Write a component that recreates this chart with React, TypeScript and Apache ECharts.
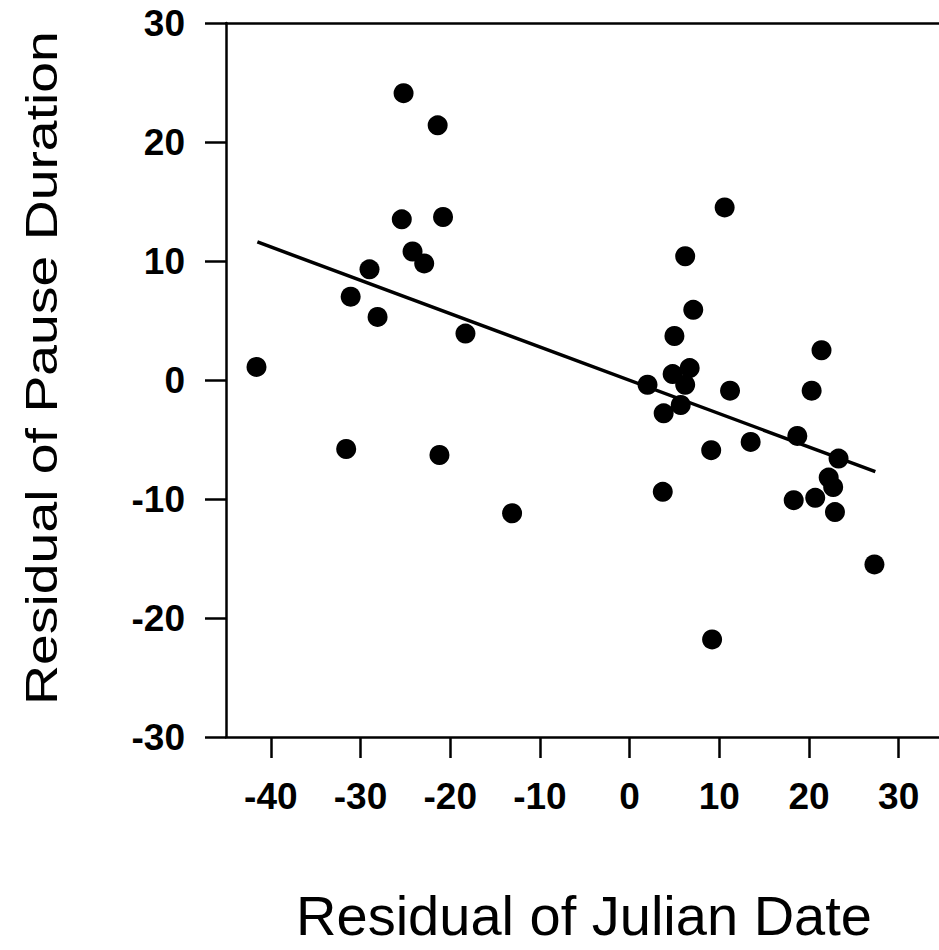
import React, { useEffect, useRef } from "react";
import * as echarts from "echarts";

const julianResidual = [
  -41.6, -25.2, -21.4, -25.4, -20.8, -24.2, -22.9, -29.0, -31.1, -28.1, -18.3,
  -31.6, -21.2, -13.1, 10.6, 6.2, 7.1, 5.0, 2.0, 4.8, 6.7, 6.2, 5.7, 3.8, 11.2,
  21.4, 20.3, 9.1, 13.5, 18.7, 23.3, 22.2, 22.7, 20.7, 18.3, 22.9, 27.3, 9.2, 3.7,
];
const pauseResidual = [
  1.1, 24.1, 21.4, 13.5, 13.7, 10.8, 9.8, 9.3, 7.0, 5.3, 3.9,
  -5.8, -6.3, -11.2, 14.5, 10.4, 5.9, 3.7, -0.4, 0.5, 1.0, -0.4, -2.1, -2.8, -0.9,
  2.5, -0.9, -5.9, -5.2, -4.7, -6.6, -8.2, -9.0, -9.9, -10.1, -11.1, -15.5, -21.8, -9.4,
];
const fitX = [-41.5, 27.4];
const fitY = [11.6, -7.7];
const xTicks = [-40, -30, -20, -10, 0, 10, 20, 30];
const yTicks = [-30, -20, -10, 0, 10, 20, 30];
const xTitle = "Residual of Julian Date";
const yTitle = "Residual of Pause Duration";

const FONT = "'Liberation Sans', Arial, Helvetica, sans-serif";

export default function App() {
  const ref = useRef<HTMLDivElement>(null);
  useEffect(() => {
    if (!ref.current) return;
    const chart = echarts.init(ref.current, null, { renderer: "svg" });
    const axisLine = { show: true, onZero: false, lineStyle: { color: "#000", width: 2.5 } };
    chart.setOption({
      animation: false,
      backgroundColor: "#fff",
      grid: { left: 226, top: 23, right: 0, bottom: 213, containLabel: false },
      xAxis: [
        {
          type: "value",
          min: -45,
          max: 34.5,
          position: "bottom",
          axisLine,
          splitLine: { show: false },
          axisTick: {
            show: true,
            length: 21,
            customValues: xTicks,
            lineStyle: { color: "#000", width: 2.5 },
          },
          axisLabel: {
            show: true,
            customValues: xTicks,
            margin: 41,
            color: "#000",
            fontSize: 37,
            fontWeight: "bold",
            fontFamily: FONT,
          },
        },
        {
          type: "value",
          min: -45,
          max: 34.5,
          position: "top",
          axisLine,
          splitLine: { show: false },
          axisTick: { show: false },
          axisLabel: { show: false },
        },
      ],
      yAxis: {
        type: "value",
        min: -30,
        max: 30,
        interval: 10,
        axisLine,
        splitLine: { show: false },
        axisTick: { show: true, length: 21, customValues: yTicks, lineStyle: { color: "#000", width: 2.5 } },
        axisLabel: {
          show: true,
          customValues: yTicks,
          margin: 41,
          color: "#000",
          fontSize: 37,
          fontWeight: "bold",
          fontFamily: FONT,
        },
      },
      graphic: [
        {
          type: "text",
          x: 584,
          y: 915,
          style: {
            text: xTitle,
            font: `56px ${FONT}`,
            fill: "#000",
            textAlign: "center",
            textVerticalAlign: "middle",
          },
        },
        {
          type: "text",
          x: 41,
          y: 368,
          rotation: Math.PI / 2,
          scaleX: 1.23,
          style: {
            text: yTitle,
            font: `45px ${FONT}`,
            fill: "#000",
            textAlign: "center",
            textVerticalAlign: "middle",
          },
        },
      ],
      series: [
        {
          type: "line",
          data: fitX.map((x, i) => [x, fitY[i]]),
          symbol: "none",
          lineStyle: { color: "#000", width: 3.5 },
          silent: true,
          z: 2,
        },
        {
          type: "scatter",
          data: julianResidual.map((x, i) => [x, pauseResidual[i]]),
          symbol: "circle",
          symbolSize: 20,
          itemStyle: { color: "#000", opacity: 1 },
          z: 3,
        },
      ],
    });
    return () => chart.dispose();
  }, []);
  return (
    <div
      ref={ref}
      style={{ position: "absolute", left: 0, top: 0, width: 939, height: 950 }}
    />
  );
}
